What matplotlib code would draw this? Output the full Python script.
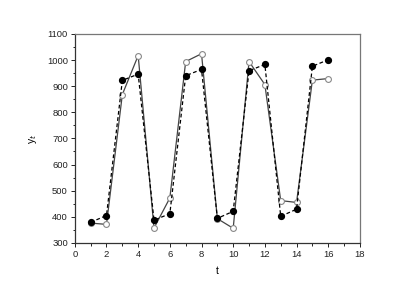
import matplotlib
matplotlib.use("Agg")
import matplotlib.pyplot as plt
from matplotlib.ticker import MultipleLocator

t = [1, 2, 3, 4, 5, 6, 7, 8, 9, 10, 11, 12, 13, 14, 15, 16]
filled_vals = [379, 405, 922, 946, 387, 412, 940, 964, 394, 421, 959, 983, 402, 429, 976, 1001]
open_vals = [376, 371, 868, 1017, 357, 472, 994, 1024, 393, 356, 994, 906, 462, 455, 923, 929]

plt.rcParams['font.family'] = ['Liberation Sans', 'DejaVu Sans']

fig = plt.figure(figsize=(4.18, 2.92), dpi=100)
ax = fig.add_axes([0.179, 0.168, 0.682, 0.716])

ax.plot(t, open_vals, color='#444444', linestyle='-', linewidth=0.9,
        marker='o', markersize=4.2, markerfacecolor='white',
        markeredgecolor='#888888', markeredgewidth=0.8, zorder=2)
ax.plot(t, filled_vals, color='black', linestyle=(0, (3, 2)), linewidth=0.9,
        marker='o', markersize=4.2, markerfacecolor='black',
        markeredgecolor='black', zorder=3)

ax.set_xlim(0, 18)
ax.set_ylim(300, 1100)
ax.xaxis.set_major_locator(MultipleLocator(2))
ax.xaxis.set_minor_locator(MultipleLocator(1))
ax.yaxis.set_major_locator(MultipleLocator(100))
ax.yaxis.set_minor_locator(MultipleLocator(50))
ax.tick_params(which='major', direction='out', length=3, width=0.7,
               labelsize=6.8, colors='#222222', pad=2)
ax.tick_params(which='minor', direction='out', length=1.8, width=0.6)

for s in ['left', 'bottom']:
    ax.spines[s].set_color('#333333')
    ax.spines[s].set_linewidth(0.9)
for s in ['top', 'right']:
    ax.spines[s].set_color('#777777')
    ax.spines[s].set_linewidth(0.9)

ax.set_xlabel('t', fontsize=7.5, labelpad=5)
ax.set_ylabel('y$_t$', fontsize=7.5, labelpad=6)

fig.savefig('out.png', dpi=100)
